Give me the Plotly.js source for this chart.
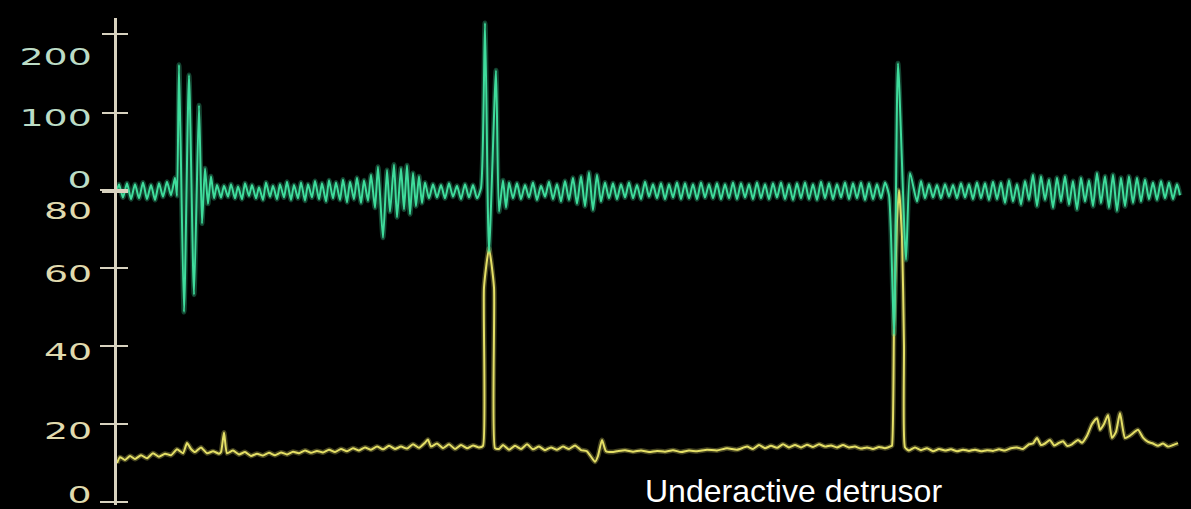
<!DOCTYPE html>
<html>
<head>
<meta charset="utf-8">
<script src="https://cdn.plot.ly/plotly-3.0.1.min.js"></script>
<style>
  html, body { margin: 0; padding: 0; background: #000; }
  #chart { width: 1191px; height: 509px; }
  .annotation:not([data-index="8"]) text {
    transform-box: fill-box;
    transform-origin: right center;
    transform: scaleX(1.65);
  }
</style>
</head>
<body>
<div id="chart"></div>
<script>
// ---- Data (time in sample units, EMG in µV, pressure in cmH2O) ----
const emgTime = [
  0,2,6,10,14,18,22,26,30,34,38,42,46,50,54,58,60,
  62,67,72,77,82,85,88,91,94,97,
  100,104,107,111,114,118,121,125,128,132,135,139,142,146,149,153,156,160,163,167,
  170,174,177,181,184,188,191,195,198,202,205,209,212,216,219,223,226,230,233,237,
  240,244,247,251,254,258,
  261,266,270,273,277,280,284,287,290,293,296,299,302,305,308,
  312,316,320,324,328,332,336,340,344,348,352,356,360,364,
  368,372,379,382,386,389,392,
  396,400,404,408,412,416,420,424,428,432,436,440,444,448,452,456,460,464,468,472,476,480,484,488,
  492,496,500,504,508,512,516,520,524,528,532,536,540,544,548,552,556,560,564,568,
  572,576,580,584,588,592,596,600,604,608,612,616,620,624,628,632,636,640,644,648,
  652,656,660,664,668,672,676,680,684,688,692,696,700,704,708,712,716,720,724,728,
  732,736,740,744,748,752,756,760,764,768,772,
  777,781,789,793,
  800,804,808,812,816,820,824,828,832,836,840,844,848,852,856,860,864,868,872,876,
  880,884,888,892,896,900,904,908,912,916,920,924,928,932,936,940,944,948,952,956,
  960,964,968,972,976,980,984,988,992,996,1000,1004,1008,1012,1016,1020,1024,1028,1032,1036,
  1040,1044,1048,1052,1056,1060,1063
];
const emgValue = [
  2,10,-7,11,-9,10,-8,12,-9,9,-10,11,-6,13,-4,18,-5,
  161,-152,148,-130,110,-40,30,-15,20,-8,
  9,-7,8,-6,10,-8,7,-9,11,-5,9,-8,6,-10,12,-6,8,-9,10,-7,
  13,-10,9,-8,12,-11,10,-7,14,-9,11,-12,15,-8,12,-10,16,-13,13,-9,
  18,-14,15,-11,22,-20,
  32,-58,28,-25,35,-32,30,-22,34,-28,24,-18,20,-14,12,
  -8,10,-7,9,-8,11,-6,8,-9,10,-7,9,-8,5,
  214,-75,154,-25,15,-20,12,
  -8,11,-9,9,-7,12,-10,8,-6,13,-9,10,-12,14,-10,18,-15,20,-18,25,-23,22,-12,12,
  -8,11,-9,10,-7,12,-8,9,-9,13,-6,10,-8,11,-9,10,-7,12,-9,11,
  -8,10,-9,12,-7,10,-8,11,-9,10,-8,12,-9,11,-7,10,-9,12,-8,10,
  -9,11,-7,12,-9,10,-10,11,-8,12,-9,10,-10,13,-8,11,-9,10,-7,12,
  -9,11,-8,12,-10,11,-9,10,-8,12,-4,
  -180,163,-86,24,
  -12,14,-8,10,-7,9,-8,10,-6,9,-8,11,-7,10,-9,12,-8,11,-10,13,
  -9,12,-14,15,-12,10,-16,14,-10,22,-18,20,-10,16,-20,18,-12,20,-16,14,
  -22,18,-12,15,-18,24,-14,20,-20,22,-24,18,-18,20,-14,18,-12,16,-9,12,
  -10,14,-8,12,-9,10,-4
];
const pressureTime = [
  0,3,8,13,18,24,30,36,42,48,54,60,66,70,74,78,84,90,96,102,104,107,110,
  116,122,128,134,140,146,152,158,164,170,176,182,188,194,200,206,212,218,224,230,
  236,242,248,254,260,266,272,278,284,290,296,302,308,311,314,320,326,332,338,344,
  350,356,362,
  366,367,372,377,378,
  382,386,392,398,404,410,416,422,428,434,440,446,452,458,464,470,478,481,485,489,495,
  500,508,516,524,532,540,548,556,564,572,580,590,600,610,620,630,
  636,642,648,654,660,666,672,678,684,690,696,702,708,714,720,726,732,738,744,750,
  756,762,768,774,
  775,777,780,782,785,787,788,
  792,798,804,810,816,822,828,834,840,846,852,858,864,870,876,882,888,894,900,906,
  912,916,920,924,928,933,937,941,946,950,955,961,965,970,975,980,983,987,991,995,
  999,1003,1008,1013,1021,1026,1031,1036,1041,1046,1051,1056,1061
];
const pressureValue = [
  10.0,11.5,10.8,11.8,11.0,12.0,11.2,12.5,11.6,12.4,12.0,13.5,12.5,15.1,13.6,12.8,14.0,12.5,13.0,12.4,12.8,17.8,12.5,
  13.2,12.2,12.8,11.8,12.4,11.9,12.6,12.0,12.7,12.2,12.9,12.5,13.2,12.6,13.1,12.7,13.4,12.8,13.6,13.0,
  13.8,13.2,14.0,13.4,14.2,13.5,14.4,13.6,14.2,13.7,14.8,13.9,15.2,16.0,14.2,15.0,13.8,14.8,13.6,14.6,
  13.8,14.5,14.0,
  14.4,55,65,55,13.8,
  13.6,14.6,13.4,14.4,13.6,14.8,13.5,14.2,13.3,14.0,13.4,14.2,13.6,14.5,13.3,13.0,10.3,11.8,15.9,13.0,12.8,
  13.0,13.3,12.9,13.2,12.8,13.1,12.9,13.3,12.8,13.2,13.0,13.4,13.2,13.8,13.4,14.2,
  13.6,14.6,13.8,14.4,13.9,14.8,14.0,14.6,14.0,14.7,14.1,14.8,14.2,14.5,14.0,14.6,14.0,14.2,13.7,14.0,
  13.6,14.1,13.8,14.3,
  14.5,45,72,80,68,40,14.0,
  13.2,14.0,13.3,13.8,13.0,13.6,13.2,13.5,13.0,13.4,13.1,13.4,13.0,13.3,13.1,13.5,13.2,13.8,14.0,13.6,
  14.8,15.0,16.4,14.6,15.0,15.9,14.5,15.0,15.6,14.4,14.8,15.9,15.2,17.0,20.0,21.5,18.5,20.0,22.3,16.4,
  18.0,22.8,16.4,17.0,18.5,16.5,15.4,15.0,14.4,15.0,14.2,14.6,15.1
];
const pressureTicks = [0, 20, 40, 60, 80];
const pressureTickLabels = ["0", "20", "40", "60", "80"];
const emgTicks = [0, 100, 200];
const emgTickLabels = ["0", "100", "200"];
const caption = "Underactive detrusor";

if (emgTime.length !== emgValue.length) throw new Error("EMG length mismatch " + emgTime.length + " vs " + emgValue.length);
if (pressureTime.length !== pressureValue.length) throw new Error("Pressure length mismatch " + pressureTime.length + " vs " + pressureValue.length);

// ---- Styles ----
const emgColor = "#3fdc9c";
const pressureColor = "#e4df66";
const axisColor = "#d8d2bf";
const emgLabelColor = "#bcdcc6";
const pressureLabelColor = "#e0daae";

const traces = [
  {x: emgTime, y: emgValue, yaxis: "y2", type: "scatter", mode: "lines",
   line: {color: emgColor, width: 5, shape: "spline", smoothing: 0.6}, opacity: 0.3, hoverinfo: "skip"},
  {x: emgTime, y: emgValue, yaxis: "y2", type: "scatter", mode: "lines",
   line: {color: emgColor, width: 2, shape: "spline", smoothing: 0.6}, name: "EMG"},
  {x: pressureTime, y: pressureValue, yaxis: "y", type: "scatter", mode: "lines",
   line: {color: pressureColor, width: 5, shape: "spline", smoothing: 0.5}, opacity: 0.3, hoverinfo: "skip"},
  {x: pressureTime, y: pressureValue, yaxis: "y", type: "scatter", mode: "lines",
   line: {color: pressureColor, width: 2, shape: "spline", smoothing: 0.5}, name: "Pressure"}
];

const pRange = [-0.77, 124.1];
const eRange = [-396.2, 220.3];
const baseAxis = {showgrid: false, zeroline: false, showticklabels: false, fixedrange: true,
                  tickcolor: axisColor, tickwidth: 2};

const labelShiftsP = [7, -7, -6, -6, -21];
const labelShiftsE = [12, -5, -23];
const labelFont = {family: "DejaVu Sans", size: 23};

const annotations = [];
pressureTicks.forEach((v, i) => annotations.push({
  xref: "paper", x: 0, yref: "y", y: v, xanchor: "right", yanchor: "middle",
  xshift: -23, yshift: labelShiftsP[i], showarrow: false,
  text: pressureTickLabels[i], font: Object.assign({color: pressureLabelColor}, labelFont)
}));
emgTicks.forEach((v, i) => annotations.push({
  xref: "paper", x: 0, yref: "y2", y: v, xanchor: "right", yanchor: "middle",
  xshift: -23, yshift: labelShiftsE[i], showarrow: false,
  text: emgTickLabels[i], font: Object.assign({color: emgLabelColor}, labelFont)
}));
annotations.push({
  xref: "paper", x: 0.4898, yref: "paper", y: 0, xanchor: "left", yanchor: "middle",
  yshift: 14, showarrow: false, text: caption,
  font: {family: "Liberation Sans, Arial, sans-serif", size: 32, color: "#ffffff"}
});

const layout = {
  width: 1191, height: 509,
  margin: {l: 117, r: 0, t: 18, b: 4, pad: 0},
  paper_bgcolor: "#000000", plot_bgcolor: "#000000",
  showlegend: false,
  xaxis: {range: [0, 1074], visible: false, fixedrange: true},
  yaxis: Object.assign({}, baseAxis, {range: pRange, tickvals: pressureTicks, ticks: "outside", ticklen: 14,
         showline: true, linecolor: axisColor, linewidth: 3}),
  yaxis3: Object.assign({}, baseAxis, {range: pRange, tickvals: pressureTicks, ticks: "inside", ticklen: 11,
         overlaying: "y", showline: false}),
  yaxis2: Object.assign({}, baseAxis, {range: eRange, tickvals: emgTicks, ticks: "outside", ticklen: 14,
         overlaying: "y", showline: false}),
  yaxis4: Object.assign({}, baseAxis, {range: eRange, tickvals: emgTicks, ticks: "inside", ticklen: 11,
         overlaying: "y", showline: false}),
  annotations: annotations
};

// invisible helper traces so the extra tick axes are drawn
traces.push({x: [0], y: [0], yaxis: "y3", mode: "markers", marker: {opacity: 0}, hoverinfo: "skip"});
traces.push({x: [0], y: [0], yaxis: "y4", mode: "markers", marker: {opacity: 0}, hoverinfo: "skip"});

Plotly.newPlot("chart", traces, layout, {displayModeBar: false, staticPlot: true});
</script>
</body>
</html>
